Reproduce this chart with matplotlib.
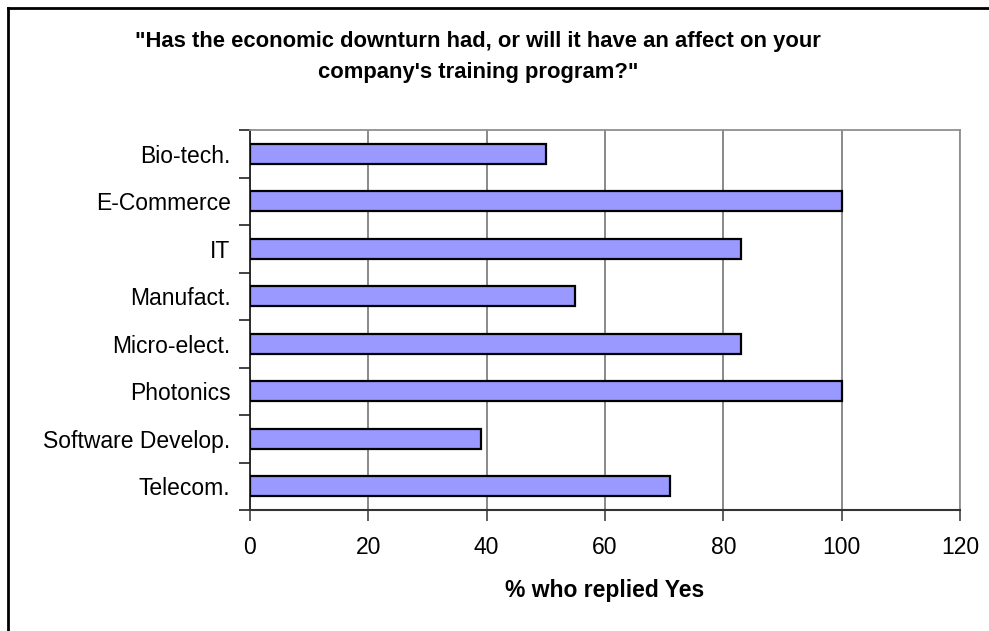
import numpy as np
import matplotlib.pyplot as plt
from matplotlib.lines import Line2D

plt.rcParams['font.family'] = ['Liberation Sans', 'DejaVu Sans']

# survey data
categories = ["Bio-tech.", "E-Commerce", "IT", "Manufact.", "Micro-elect.",
              "Photonics", "Software Develop.", "Telecom."]
pct_yes = [50, 100, 83, 55, 83, 100, 39, 71]
x_ticks = [0, 20, 40, 60, 80, 100, 120]

title = '"Has the economic downturn had, or will it have an affect on your\ncompany\'s training program?"'
xlabel = "% who replied Yes"

fig = plt.figure(figsize=(9.89, 6.31), dpi=100)
ax = fig.add_axes([250 / 989, 1 - 510 / 631, 710 / 989, 380 / 631])

n = len(categories)
pos = np.arange(n)
ax.barh(pos, pct_yes, height=0.42, color="#9999FF", edgecolor="black",
        linewidth=1.6, zorder=3)

ax.set_xlim(0, 120)
ax.set_ylim(n - 0.5, -0.5)
ax.set_xticks(x_ticks)
ax.set_xticklabels([str(t) for t in x_ticks], fontsize=16.5)

# category labels centred, tick marks between categories
ax.set_yticks(pos)
ax.set_yticklabels(categories, fontsize=16.5)
ax.tick_params(axis="y", which="major", length=0, pad=14)
ax.set_yticks(np.arange(n + 1) - 0.5, minor=True)
ax.tick_params(axis="y", which="minor", length=8, width=1.2, color="#222222", direction="out")
ax.tick_params(axis="x", length=8, width=1.2, color="#444444", direction="out", pad=11)

ax.grid(axis="x", color="#808080", linewidth=1.3, zorder=0)
ax.set_axisbelow(True)

for s in ["top", "right"]:
    ax.spines[s].set_color("#909090")
    ax.spines[s].set_linewidth(1.3)
ax.spines["left"].set_color("#222222")
ax.spines["left"].set_linewidth(1.3)
ax.spines["bottom"].set_color("#333333")
ax.spines["bottom"].set_linewidth(1.5)

ax.set_xlabel(xlabel, fontsize=16.5, fontweight="bold", labelpad=14)

fig.text(478 / 989, 1 - 57 / 631, title, ha="center", va="center",
         fontsize=15.8, fontweight="bold", linespacing=1.6)

# outer chart frame (only top and left visible)
fig.add_artist(Line2D([8 / 989, 8 / 989], [0, 1 - 8 / 631], color="black", linewidth=2,
                      transform=fig.transFigure))
fig.add_artist(Line2D([8 / 989, 1], [1 - 8 / 631, 1 - 8 / 631], color="black", linewidth=2,
                      transform=fig.transFigure))

fig.savefig("out.png", dpi=100)
